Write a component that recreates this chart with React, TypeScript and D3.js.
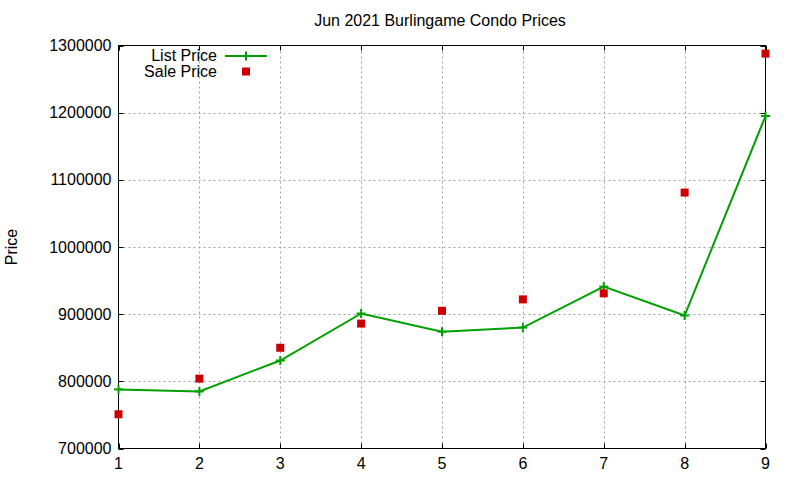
import React from "react";
import * as d3 from "d3";

const months = [1, 2, 3, 4, 5, 6, 7, 8, 9];
const listPrice = [788000, 785000, 831000, 901000, 874000, 880000, 941000, 898000, 1195000];
const salePrice = [751000, 804000, 850000, 886000, 905000, 922000, 931000, 1081000, 1288000];
const yTicks = [700000, 800000, 900000, 1000000, 1100000, 1200000, 1300000];

const W = 800;
const H = 480;
const margin = { left: 118.5, right: 34.5, top: 45.5, bottom: 31.5 };
const font = "'Liberation Sans', Arial, sans-serif";
const green = "#00a000";
const red = "#cc0000";
const gridColor = "#a0a0a0";
const tick = 5;

export default function App() {
  const x = d3
    .scaleLinear()
    .domain([1, 9])
    .range([margin.left, W - margin.right]);
  const y = d3
    .scaleLinear()
    .domain([700000, 1300000])
    .range([H - margin.bottom, margin.top]);

  const line = d3
    .line<number>()
    .x((_, i) => x(months[i]))
    .y((d) => y(d));

  const x0 = x.range()[0];
  const x1 = x.range()[1];
  const y0 = y.range()[0];
  const y1 = y.range()[1];

  const plus = (cx: number, cy: number, key: string) => (
    <g key={key} stroke={green} strokeWidth={2}>
      <line x1={cx - 4.5} x2={cx + 4.5} y1={cy} y2={cy} />
      <line x1={cx} x2={cx} y1={cy - 4.5} y2={cy + 4.5} />
    </g>
  );

  return (
    <svg
      width={W}
      height={H}
      style={{ position: "fixed", left: 0, top: 0, background: "#fff" }}
      fontFamily={font}
    >
      <rect width={W} height={H} fill="#fff" />

      {/* grid */}
      {months.slice(1, -1).map((m) => (
        <line
          key={`gx${m}`}
          x1={Math.round(x(m)) + 0.5}
          x2={Math.round(x(m)) + 0.5}
          y1={y0}
          y2={y1}
          stroke={gridColor}
          strokeDasharray="2,3"
        />
      ))}
      {yTicks.slice(1, -1).map((t) => (
        <line
          key={`gy${t}`}
          x1={x0}
          x2={x1}
          y1={Math.round(y(t)) + 0.5}
          y2={Math.round(y(t)) + 0.5}
          stroke={gridColor}
          strokeDasharray="2,3"
        />
      ))}

      {/* ticks (inward, mirrored) */}
      {months.map((m) => {
        const px = Math.round(x(m)) + 0.5;
        return (
          <g key={`tx${m}`} stroke="#000">
            <line x1={px} x2={px} y1={y0} y2={y0 - tick} />
            <line x1={px} x2={px} y1={y1} y2={y1 + tick} />
          </g>
        );
      })}
      {yTicks.map((t) => {
        const py = Math.round(y(t)) + 0.5;
        return (
          <g key={`ty${t}`} stroke="#000">
            <line x1={x0} x2={x0 + tick} y1={py} y2={py} />
            <line x1={x1} x2={x1 - tick} y1={py} y2={py} />
          </g>
        );
      })}

      {/* border */}
      <rect x={x0} y={y1} width={x1 - x0} height={y0 - y1} fill="none" stroke="#000" />

      {/* tick labels */}
      {months.map((m) => (
        <text key={`lx${m}`} x={x(m)} y={y0 + 20} textAnchor="middle" fontSize={16}>
          {m}
        </text>
      ))}
      {yTicks.map((t) => (
        <text key={`ly${t}`} x={x0 - 7} y={y(t) + 5.5} textAnchor="end" fontSize={16}>
          {t}
        </text>
      ))}

      {/* title & axis label */}
      <text x={440} y={26} textAnchor="middle" fontSize={16}>
        Jun 2021 Burlingame Condo Prices
      </text>
      <text
        transform={`translate(17,${(y0 + y1) / 2}) rotate(-90)`}
        textAnchor="middle"
        fontSize={16}
      >
        Price
      </text>

      {/* list price line */}
      <path d={line(listPrice) ?? ""} fill="none" stroke={green} strokeWidth={2} />
      {listPrice.map((v, i) => plus(x(months[i]), y(v), `p${i}`))}

      {/* sale price points */}
      {salePrice.map((v, i) => (
        <rect
          key={`s${i}`}
          x={x(months[i]) - 4}
          y={y(v) - 4}
          width={8}
          height={8}
          fill={red}
        />
      ))}

      {/* legend */}
      <text x={217} y={61} textAnchor="end" fontSize={16}>
        List Price
      </text>
      <line x1={225} x2={267} y1={56} y2={56} stroke={green} strokeWidth={2} />
      {plus(246, 56, "legp")}
      <text x={217} y={77} textAnchor="end" fontSize={16}>
        Sale Price
      </text>
      <rect x={242} y={67.5} width={8} height={8} fill={red} />
    </svg>
  );
}
